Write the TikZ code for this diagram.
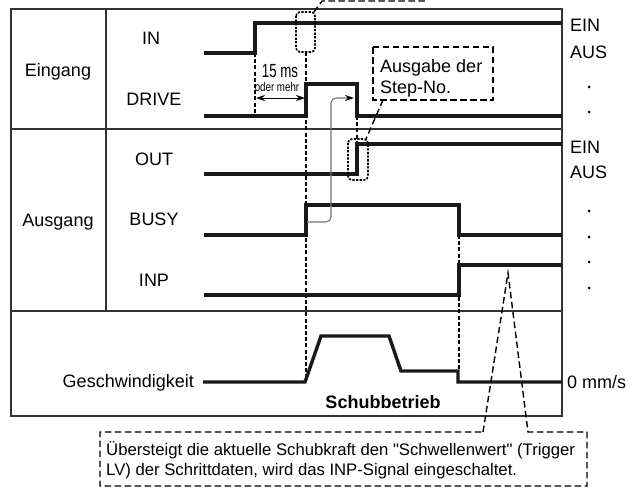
\documentclass[tikz,border=0pt]{standalone}
\usepackage{fontspec}
\setmainfont[Ligatures=TeXOff]{Liberation Sans}
\usetikzlibrary{arrows.meta}
\begin{document}
\begin{tikzpicture}[x=1pt,y=-1pt,
  lbl/.style={font=\fontsize{18}{20}\selectfont, inner sep=0pt, text height=13pt, text depth=0pt},
  frame/.style={line width=1.1pt, draw=black!80},
  sig/.style={line width=3.4pt, draw=black!90, line join=miter},
  guide/.style={line width=1.2pt, dash pattern=on 4pt off 2.2pt},
  callout/.style={line width=1.4pt, dash pattern=on 6.5pt off 3.5pt},
  dotbox/.style={line width=1.7pt, dash pattern=on 2.2pt off 1.4pt, rounded corners=4pt},
  greyline/.style={line width=1.1pt, draw=black!55},
  tipb/.style={-{Stealth[length=9pt,width=6pt,color=black]}},
  tipbb/.style={{Stealth[length=9pt,width=6pt]}-{Stealth[length=9pt,width=6pt]}}
]
\useasboundingbox (0,0) rectangle (634,488);
% frame
\draw[frame] (11,9) rectangle (562,416);
\draw[frame] (106,9) -- (106,311);
\draw[frame] (11,129) -- (562,129);
\draw[frame] (11,311) -- (562,311);

% labels
\node[lbl] (eingang) at (58,70) {Eingang};
\node[lbl] (ausgang) at (58,220) {Ausgang};
\node[lbl] (in) at (151,38) {IN};
\node[lbl] (drive) at (154,99) {DRIVE};
\node[lbl] (out) at (154,159) {OUT};
\node[lbl] (busy) at (154,219) {BUSY};
\node[lbl] (inp) at (154,280) {INP};
\node[lbl, anchor=east] (gesch) at (194,381) {Geschwindigkeit};
\node[lbl, anchor=west] (ein1) at (570,25) {EIN};
\node[lbl, anchor=west] (aus1) at (570,52) {AUS};
\node[lbl, anchor=west] (ein2) at (570,147) {EIN};
\node[lbl, anchor=west] (aus2) at (570,172) {AUS};
\node[lbl, anchor=west] (zero) at (567,382) {0 mm/s};
\node[lbl, font=\fontsize{18}{20}\selectfont\bfseries] (schub) at (383,402) {Schubbetrieb};

% dots
\foreach \yy in {87,112,211,237,262,288}
  \fill (589,\yy) circle (1.5pt);

% guide lines
\draw[guide] (255,53) -- (255,116);
\draw[guide] (306,52) -- (306,382);
\draw[guide] (357,116) -- (357,144);
\draw[guide] (459,235) -- (459,371);

% signals
\draw[sig] (204,53) -- (255,53) -- (255,23) -- (562,23);
\draw[sig] (204,116) -- (306,116) -- (306,84) -- (357,84) -- (357,116) -- (562,116);
\draw[sig] (204,174) -- (357,174) -- (357,144) -- (562,144);
\draw[sig] (204,235) -- (306,235) -- (306,205) -- (459,205) -- (459,235) -- (562,235);
\draw[sig] (204,295) -- (459,295) -- (459,265) -- (562,265);
\draw[sig] (203,382) -- (305,382) -- (321,336) -- (389,336) -- (401,371) -- (458,371) -- (458,382) -- (562,382);

% 15 ms
\coordinate (msa) at (256,98);
\coordinate (msb) at (305,98);
\draw[line width=1pt, tipbb] (msa) -- (msb);
\node[inner sep=0pt, font=\fontsize{19}{20}\selectfont] (ms) at (280,71) {\scalebox{0.7}[1]{15 ms}};
\node[inner sep=0pt, font=\fontsize{12.5}{13}\selectfont] (odm) at (277,87.5) {\scalebox{0.78}[1]{oder mehr}};

% grey connector
\coordinate (ga) at (307,222);
\coordinate (gb) at (354,98);
\draw[greyline, rounded corners=5pt, tipb] (ga) -- (331,222) -- (331,98) -- (gb);

% dotted boxes
\draw[dotbox] (296,12) rectangle (315,52);
\draw[dotbox] (348,139) rectangle (368,180);

% top callout leader
\coordinate (c1) at (314,12);
\draw[callout] (c1) -- (322,1) -- (425,1);

% Ausgabe box
\draw[callout] (373,47) rectangle (493,100);
\node[lbl, anchor=base west, text height=, text depth=] (ausg1) at (380,72) {Ausgabe der};
\node[lbl, anchor=base west, text height=, text depth=] (ausg2) at (380,93) {Step-No.};
\coordinate (l2a) at (383,100);
\coordinate (l2b) at (366,139);
\draw[callout] (l2a) -- (l2b);

% note box with leader
\coordinate (apex) at (508,273);
\draw[callout] (483,432) -- (apex) -- (528,432) -- (587,432) -- (587,486) -- (100,486) -- (100,432) -- cycle;
\node[inner sep=0pt, anchor=base west, font=\fontsize{16.7}{20}\selectfont] (note1) at (106,455) {Übersteigt die aktuelle Schubkraft den "Schwellenwert" (Trigger};
\node[inner sep=0pt, anchor=base west, font=\fontsize{16.7}{20}\selectfont] (note2) at (106,475) {LV) der Schrittdaten, wird das INP-Signal eingeschaltet.};
\end{tikzpicture}
\end{document}
